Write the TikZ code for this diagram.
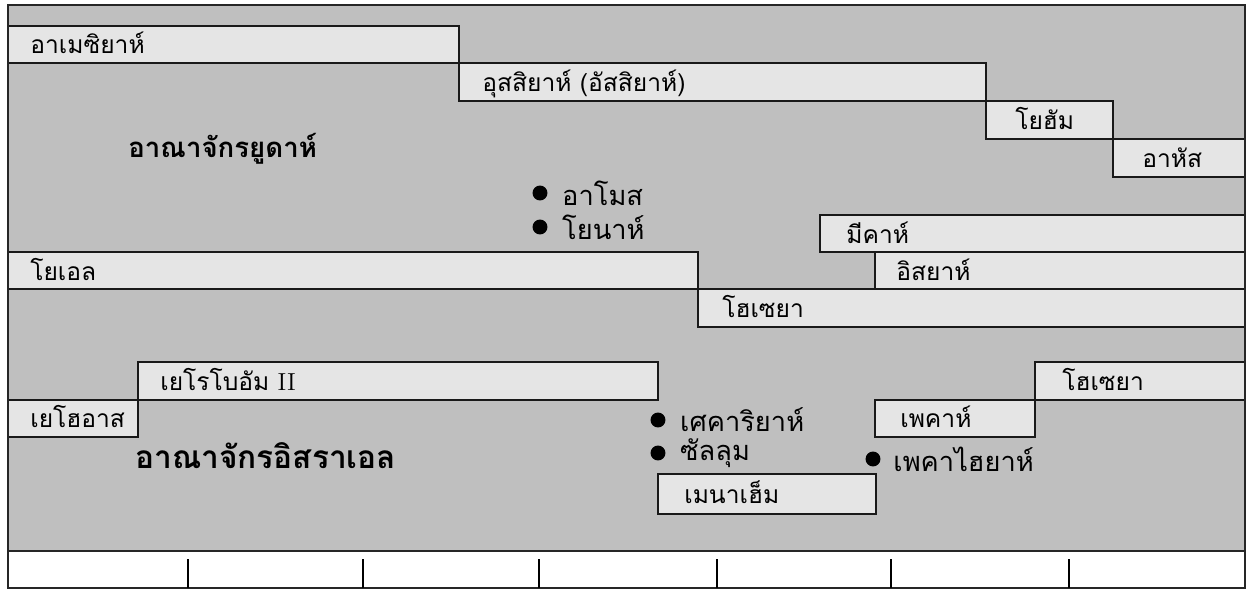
\documentclass[tikz,border=0pt]{standalone}
\usepackage{fontspec}
\usetikzlibrary{positioning}
\newfontfamily\thaifont[Script=Thai]{Loma}
\definecolor{kingdomgray}{gray}{0.75}
\definecolor{reigngray}{gray}{0.9}
\tikzset{
  frameline/.style={draw=black!85, line width=1.2pt},
  reign/.style={draw=black!90, fill=reigngray, line width=1.1pt},
  reignlabel/.style={anchor=base west, inner sep=0pt, font=\thaifont\fontsize{14}{16}\selectfont},
  kingdom/.style={anchor=base west, inner sep=0pt, font=\thaifont\bfseries\fontsize{18}{20}\selectfont},
  prophetdot/.style={circle, fill=black, inner sep=0pt, minimum size=8.5pt},
  prophet/.style={inner sep=0pt, font=\thaifont\fontsize{15.5}{17}\selectfont},
}
\begin{document}
\begin{tikzpicture}[x=0.02cm, y=-0.02cm]
  \useasboundingbox (0,0) rectangle (1250,592);
  % background and time strip
  \fill[kingdomgray] (8,5) rectangle (1245,551);
  \fill[white] (8,551) rectangle (1245,588);
  % kingdom of Judah
  \draw[reign] (8,26) rectangle (459,63);
  \node[reignlabel] (amaziah) at (30,53) {อาเมซิยาห์};
  \draw[reign] (459,63) rectangle (986,101);
  \node[reignlabel] (uzziah) at (482,91) {อุสสิยาห์ (อัสสิยาห์)};
  \draw[reign] (986,101) rectangle (1113,139);
  \node[reignlabel] (jotham) at (1015,129) {โยฮัม};
  \draw[reign] (1113,139) rectangle (1245,177);
  \node[reignlabel] (ahaz) at (1142,167) {อาหัส};
  \node[kingdom, font=\thaifont\bfseries\fontsize{15.7}{18}\selectfont] (judah) at (128,157) {อาณาจักรยูดาห์};
  \node[prophetdot] (amosdot) at (540,193) {};
  \node[prophet, right=8pt of amosdot] (amos) {อาโมส};
  \node[prophetdot] (jonahdot) at (540,227) {};
  \node[prophet, right=8pt of jonahdot] (jonah) {โยนาห์};
  \draw[reign] (820,215) rectangle (1245,252);
  \node[reignlabel] (micah) at (846,243) {มีคาห์};
  \draw[reign] (8,252) rectangle (698,289);
  \node[reignlabel] (joel) at (30,280) {โยเอล};
  \draw[reign] (875,252) rectangle (1245,289);
  \node[reignlabel] (isaiah) at (896,280) {อิสยาห์};
  \draw[reign] (698,289) rectangle (1245,327);
  \node[reignlabel] (hoseaj) at (722,317) {โฮเซยา};
  % kingdom of Israel
  \draw[reign] (138,362) rectangle (658,400);
  \node[reignlabel] (jeroboam) at (160,390) {เยโรโบอัม {\rmfamily II}};
  \draw[reign] (8,400) rectangle (138,437);
  \node[reignlabel] (jehoash) at (30,427) {เยโฮอาส};
  \node[kingdom] (israel) at (135,468) {อาณาจักรอิสราเอล};
  \node[prophetdot] (zechdot) at (658,420) {};
  \node[prophet, right=8pt of zechdot] (zechariah) {เศคาริยาห์};
  \node[prophetdot] (shallumdot) at (658,453) {};
  \node[prophet, right=8pt of shallumdot] (shallum) {ซัลลุม};
  \draw[reign] (658,474) rectangle (876,514);
  \node[reignlabel] (menahem) at (684,503) {เมนาเฮ็ม};
  \draw[reign] (875,400) rectangle (1035,437);
  \node[reignlabel] (pekah) at (900,427) {เพคาห์};
  \draw[reign] (1035,362) rectangle (1245,400);
  \node[reignlabel] (hoseai) at (1062,390) {โฮเซยา};
  \node[prophetdot] (pekahiahdot) at (873,459) {};
  \node[prophet, right=7pt of pekahiahdot] (pekahiah) {เพคาไฮยาห์};
  % frame and ticks
  \draw[frameline] (8,5) rectangle (1245,588);
  \draw[frameline] (8,551) -- (1245,551);
  \foreach \x in {188,363,539,717,891,1069}
    \draw[line width=1pt] (\x,559) -- (\x,588);
\end{tikzpicture}
\end{document}
